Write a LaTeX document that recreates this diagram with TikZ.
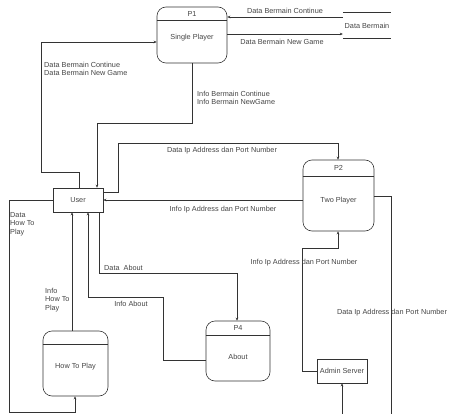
\documentclass[tikz,border=0pt]{standalone}
\usepackage{fontspec}
\setmainfont{Liberation Sans}
\usetikzlibrary{arrows.meta,calc}
\definecolor{ln}{HTML}{333333}
\definecolor{tx}{HTML}{444444}
\begin{document}
\begin{tikzpicture}[x=1pt,y=-1pt,
  every node/.style={inner sep=0pt, text=tx, font=\fontsize{7.3}{8.5}\selectfont},
  proc/.style={draw=ln, line width=0.6pt, rounded corners=9pt},
  ent/.style={draw=ln, line width=0.6pt},
  flow/.style={draw=ln, line width=0.6pt},
  arr/.style={flow, -{Stealth[length=3pt,width=2.6pt]}},
  lbl/.style={align=left}
]
\useasboundingbox (0,0) rectangle (449,414);
% processes
\node[proc, minimum width=70pt, minimum height=56pt] (p1) at (192,35) {};
\draw[flow] (p1.west |- 0,20) -- (p1.east |- 0,20);
\node (p1id) at (192,14) {P1};
\node (p1t) at (192,38) {Single Player};

\node[proc, minimum width=71pt, minimum height=71pt] (p2) at (338.5,195.5) {};
\draw[flow] (p2.west |- 0,176) -- (p2.east |- 0,176);
\node (p2id) at (338.5,168) {P2};
\node (p2t) at (338.5,201) {Two Player};

\node[proc, minimum width=65pt, minimum height=65pt] (p3) at (75.5,363.5) {};
\draw[flow] (p3.west |- 0,344) -- (p3.east |- 0,344);
\node (p3t) at (75.5,367) {How To Play};

\node[proc, minimum width=64pt, minimum height=60pt] (p4) at (238,351) {};
\draw[flow] (p4.west |- 0,335) -- (p4.east |- 0,335);
\node (p4id) at (238,328) {P4};
\node (p4t) at (238,357) {About};

% entities
\node[ent, minimum width=50pt, minimum height=24pt] (user) at (78,200) {User};
\node[ent, minimum width=50pt, minimum height=24pt] (admin) at (342,371) {Admin Server};

% data store
\node[minimum width=48pt, minimum height=25pt] (db) at (367,25.5) {Data Bermain};
\draw[flow] (db.north west) -- (db.north east);
\draw[flow] (db.south west) -- (db.south east);

% free ends
\coordinate (bot1) at (391,414);
\coordinate (bot2) at (342,414);

% flows
\draw[arr] (db.west |- 0,17) -- (p1.east |- 0,17);
\node (l1) at (285,10.5) {Data Bermain Continue};
\draw[arr] (p1.east |- 0,34) -- (db.west |- 0,34);
\node (l2) at (282,42) {Data Bermain New Game};

\draw[arr] (user.north -| 79,0) -- (79,172) -- (41,172) -- (41,42) -- (p1.west |- 0,42);
\node[lbl, anchor=west] (l3) at (44,69) {Data Bermain Continue\\Data Bermain New Game};

\draw[arr] (p1.south -| 192,0) -- (192,123) -- (97,123) -- (user.north -| 97,0);
\node[lbl, anchor=west] (l4) at (197,98) {Info Bermain Continue\\Info Bermain NewGame};

\draw[arr] (user.east |- 0,192) -- (118,192) -- (118,143) -- (338,143) -- (p2.north -| 338,0);
\node (l5) at (222,151) {Data Ip Address dan Port Number};

\draw[arr] (p2.west |- 0,200) -- (user.east |- 0,200);
\node (l6) at (223,210) {Info Ip Address dan Port Number};

\draw[flow] (p2.east |- 0,196) -- (391,196) -- (bot1);
\node (l7) at (392,313) {Data Ip Address dan Port Number};

\draw[arr] (bot2) -- (admin.south);

\draw[arr] (admin.west) -- (302,371) -- (302,248) -- (338,248) -- (p2.south -| 338,0);
\node (l8) at (304,263) {Info Ip Address dan Port Number};

\draw[arr] (user.west) -- (9,200) -- (9,412) -- (75,412) -- (p3.south -| 75,0);
\node[lbl, anchor=west] (l9) at (10,224) {Data\\How To\\Play};

\draw[arr] (p3.north -| 72,0) -- (user.south -| 72,0);
\node[lbl, anchor=west] (l10) at (45,300) {Info\\How To\\Play};

\draw[arr] (p4.west |- 0,360) -- (163,360) -- (163,297) -- (88,297) -- (user.south -| 88,0);
\node (l11) at (131,304) {Info About};

\draw[arr] (user.south -| 99,0) -- (99,273) -- (237,273) -- (p4.north -| 237,0);
\node[anchor=west] (l12) at (104,268) {Data\ \ About};
\end{tikzpicture}
\end{document}
